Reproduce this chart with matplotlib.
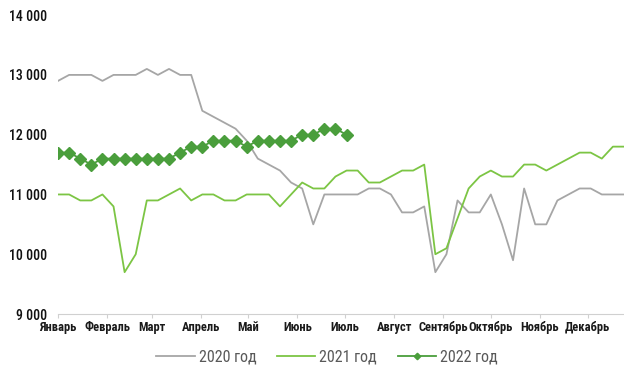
import matplotlib
matplotlib.use("Agg")
import matplotlib.pyplot as plt
from matplotlib import font_manager

names = {f.name for f in font_manager.fontManager.ttflist}
narrow = "DejaVu Sans"
for cand in ["Roboto Condensed", "PT Sans Narrow", "IBM Plex Sans Condensed",
             "Fira Sans Condensed", "Open Sans Condensed", "Liberation Sans Narrow"]:
    if cand in names:
        narrow = cand
        break
fam = [narrow, "DejaVu Sans"]

months = ["Январь", "Февраль", "Март", "Апрель", "Май", "Июнь", "Июль",
          "Август", "Сентябрь", "Октябрь", "Ноябрь", "Декабрь"]
month_start_days = [0, 31, 59, 90, 120, 151, 181, 212, 243, 273, 304, 334]

y2020 = [12900, 13000, 13000, 13000, 12900, 13000, 13000, 13000, 13100, 13000,
         13100, 13000, 13000, 12400, 12300, 12200, 12100, 11900, 11600, 11500,
         11400, 11200, 11100, 10500, 11000, 11000, 11000, 11000, 11100, 11100,
         11000, 10700, 10700, 10800, 9700, 10000, 10900, 10700, 10700, 11000,
         10500, 9900, 11100, 10500, 10500, 10900, 11000, 11100, 11100, 11000,
         11000, 11000]
y2021 = [11000, 11000, 10900, 10900, 11000, 10800, 9700, 10000, 10900, 10900,
         11000, 11100, 10900, 11000, 11000, 10900, 10900, 11000, 11000, 11000,
         10800, 11000, 11200, 11100, 11100, 11300, 11400, 11400, 11200, 11200,
         11300, 11400, 11400, 11500, 10000, 10100, 10600, 11100, 11300, 11400,
         11300, 11300, 11500, 11500, 11400, 11500, 11600, 11700, 11700, 11600,
         11800, 11800]
y2022 = [11700, 11700, 11600, 11500, 11600, 11600, 11600, 11600, 11600, 11600,
         11600, 11700, 11800, 11800, 11900, 11900, 11900, 11800, 11900, 11900,
         11900, 11900, 12000, 12000, 12100, 12100, 12000]
labels = ["2020 год", "2021 год", "2022 год"]
yticks = [9000, 10000, 11000, 12000, 13000, 14000]

fig = plt.figure(figsize=(6.24, 3.69), dpi=100)
ax = fig.add_axes([0.093, 0.149, 0.907, 0.81])

ax.plot(range(len(y2020)), y2020, color="#a6a6a6", lw=1.3, label=labels[0])
ax.plot(range(len(y2021)), y2021, color="#7cc544", lw=1.3, label=labels[1])
ax.plot(range(len(y2022)), y2022, color="#4a9e3c", lw=1.3, marker="D",
        markersize=6, label=labels[2])

ax.set_xlim(0, 51)
ax.set_ylim(9000, 14000)
ax.set_yticks(yticks)
ax.set_yticklabels([f"{v:,}".replace(",", " ") for v in yticks],
                   fontsize=10, family=fam, fontweight="medium", color="#111111")
ax.set_xticks([d / 7 for d in month_start_days])
ax.set_xticklabels(months, fontsize=9, family=fam, fontweight="bold",
                   color="#1a1a1a")

for s in ["top", "right", "left"]:
    ax.spines[s].set_visible(False)
ax.spines["bottom"].set_color("#d0d0d0")
ax.tick_params(axis="y", length=0, pad=8)
ax.tick_params(axis="x", length=3, color="#d0d0d0", pad=2)

leg = fig.legend(loc="center", bbox_to_anchor=(0.524, 0.0325), ncol=3,
                 frameon=False, handlelength=2.4,
                 columnspacing=1.3, handletextpad=0.25, markerscale=0.55,
                 prop={"family": fam, "size": 11.5})
for t in leg.get_texts():
    t.set_color("#595959")

fig.savefig("out.png", dpi=100)
